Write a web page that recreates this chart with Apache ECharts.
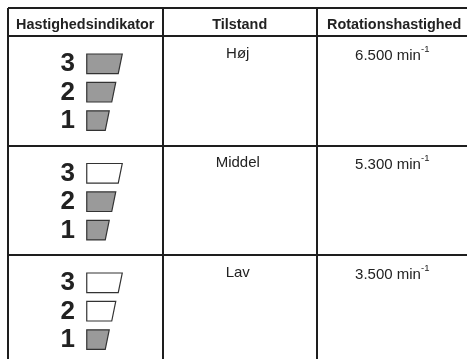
<!DOCTYPE html>
<html>
<head>
<meta charset="utf-8">
<script src="https://cdn.jsdelivr.net/npm/echarts@6/dist/echarts.min.js"></script>
<style>html,body{margin:0;padding:0;background:#fff;}#c{width:467px;height:359px;}</style>
</head>
<body>
<div id="c"></div>
<script>
// ---- data ----
const headers = ['Hastighedsindikator', 'Tilstand', 'Rotationshastighed'];
const states = ['Høj', 'Middel', 'Lav'];
const speeds = [6500, 5300, 3500];          // min^-1
const litSegments = [3, 2, 1];              // how many indicator segments are lit
const segmentLabels = [3, 2, 1];            // indicator segments, top to bottom
const speedUnit = 'min';
const speedExp = '-1';

// ---- style ----
const FONT = "'Liberation Sans', Arial, sans-serif";
const LINE = '#1e1e1e';
const TEXT = '#222';
const LIT = '#9a9a9a';

function fmt(n) { return String(n).replace(/\B(?=(\d{3})+(?!\d))/g, '.'); }

const chart = echarts.init(document.getElementById('c'), null, { renderer: 'canvas' });

const gridLine = { show: true, lineStyle: { color: LINE, width: 2 } };
const hiddenAxisParts = { axisLine: { show: false }, axisTick: { show: false }, axisLabel: { show: false } };

chart.setOption({
  animation: false,
  backgroundColor: '#fff',
  grid: [
    { left: 8, top: 8, width: 463.5, height: 28, containLabel: false, outerBoundsMode: 'none' },
    { left: 8, top: 36, width: 463.5, height: 328.5, containLabel: false, outerBoundsMode: 'none' }
  ],
  xAxis: [
    Object.assign({ type: 'category', gridIndex: 0, data: headers, boundaryGap: true, splitLine: gridLine }, hiddenAxisParts),
    Object.assign({ type: 'category', gridIndex: 1, data: headers, boundaryGap: true, splitLine: gridLine }, hiddenAxisParts)
  ],
  yAxis: [
    Object.assign({ type: 'category', gridIndex: 0, data: ['header'], inverse: true, boundaryGap: true, splitLine: gridLine }, hiddenAxisParts),
    Object.assign({ type: 'category', gridIndex: 1, data: states, inverse: true, boundaryGap: true, splitLine: gridLine }, hiddenAxisParts)
  ],
  series: [
    {
      type: 'custom',
      xAxisIndex: 0, yAxisIndex: 0,
      clip: false,
      data: headers.map((h, i) => ({ value: [i, 0], name: h })),
      encode: { x: 0, y: 1 },
      renderItem: function (params, api) {
        const p = api.coord([api.value(0), 0]);
        return {
          type: 'text',
          style: {
            text: headers[params.dataIndex],
            x: p[0], y: p[1] + 3,
            align: 'center', verticalAlign: 'middle',
            font: 'bold 14.4px ' + FONT,
            fill: TEXT
          }
        };
      }
    },
    {
      type: 'custom',
      xAxisIndex: 1, yAxisIndex: 1,
      clip: false,
      data: states.map((s, i) => ({ value: [0, i, speeds[i], litSegments[i]], name: s })),
      encode: { x: 0, y: 1 },
      renderItem: function (params, api) {
        const r = api.value(1);
        const speed = api.value(2);
        const lit = api.value(3);
        const size = api.size([1, 1]);
        const c0 = api.coord([0, r]);
        const c1 = api.coord([1, r]);
        const c2 = api.coord([2, r]);
        const top = c0[1] - size[1] / 2;
        const children = [];
        segmentLabels.forEach(function (lvl, k) {
          const cy = top + 27.8 + k * 28.4;
          children.push({
            type: 'text',
            style: {
              text: String(lvl), x: c0[0] - 17.4, y: cy + 0.5,
              align: 'center', verticalAlign: 'middle',
              font: 'bold 26px ' + FONT, fill: TEXT
            }
          });
          const x0 = c0[0] + 1.5;
          const w = 16 + 6.5 * lvl;
          const h2 = 9.8;
          children.push({
            type: 'polygon',
            shape: { points: [[x0, cy - h2], [x0 + w, cy - h2], [x0 + w - 4, cy + h2], [x0, cy + h2]] },
            style: { fill: lvl <= lit ? LIT : '#fff', stroke: '#333', lineWidth: 1.2 }
          });
        });
        children.push({
          type: 'text',
          style: {
            text: states[r], x: c1[0] - 2, y: top + 17.5,
            align: 'center', verticalAlign: 'middle',
            font: '15px ' + FONT, fill: TEXT
          }
        });
        children.push({
          type: 'text',
          style: {
            text: '{v|' + fmt(speed) + ' ' + speedUnit + '}{s|' + speedExp + '}',
            x: c2[0] - 2, y: top + 17.5,
            align: 'center', verticalAlign: 'middle',
            rich: {
              v: { fontSize: 15, fontFamily: FONT, fill: TEXT, color: TEXT, lineHeight: 19, verticalAlign: 'bottom' },
              s: { fontSize: 9.5, fontFamily: FONT, fill: TEXT, color: TEXT, lineHeight: 19, verticalAlign: 'top' }
            }
          }
        });
        return { type: 'group', children: children };
      }
    }
  ]
});
</script>
</body>
</html>
